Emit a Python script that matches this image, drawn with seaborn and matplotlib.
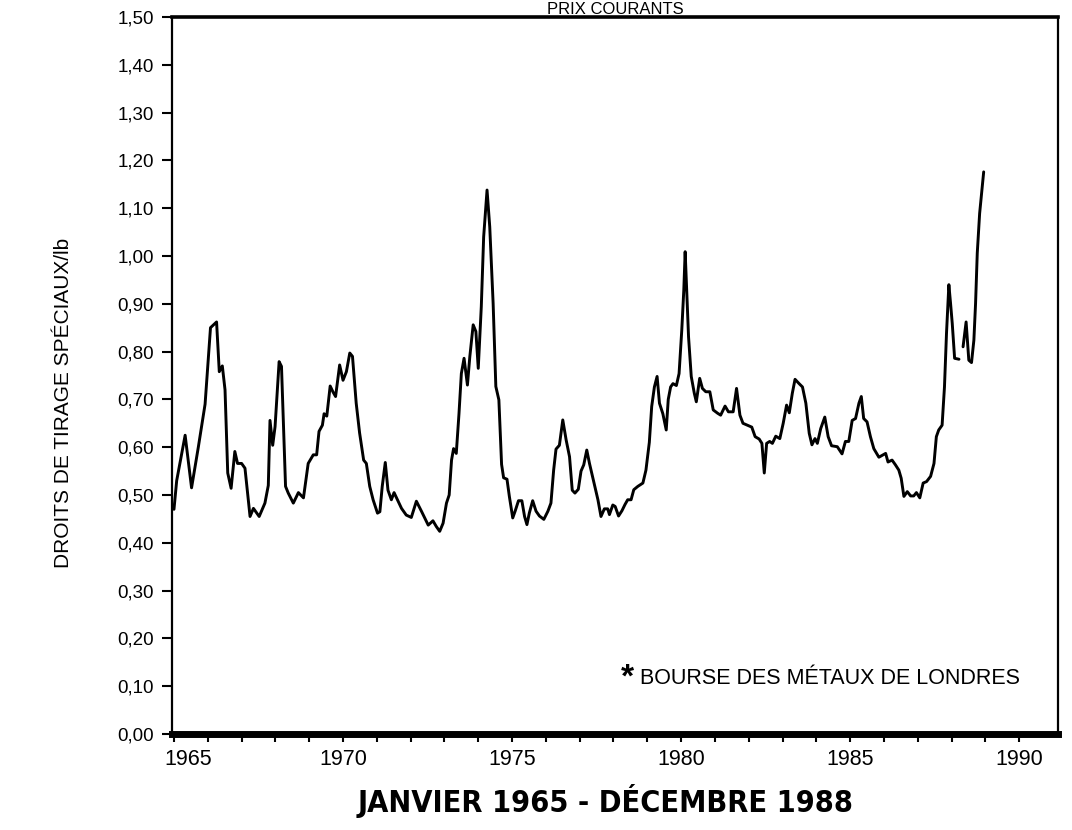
import numpy as np
import pandas as pd
import matplotlib
matplotlib.use("Agg")
import matplotlib.pyplot as plt
import matplotlib.transforms as mtransforms
import seaborn as sns

# prix mensuels du cuivre (DTS/lb)
dates_a = [1965.00, 1965.08, 1965.33, 1965.52, 1965.72, 1965.92, 1966.08, 1966.26, 1966.34, 1966.43,
           1966.51, 1966.59, 1966.69, 1966.80, 1966.88, 1967.00, 1967.10, 1967.25, 1967.35, 1967.52,
           1967.69, 1967.79, 1967.84, 1967.92, 1967.99, 1968.11, 1968.18, 1968.30, 1968.38, 1968.53,
           1968.68, 1968.83, 1968.97, 1969.12, 1969.22, 1969.29, 1969.39, 1969.44, 1969.52, 1969.62,
           1969.70, 1969.78, 1969.90, 1970.00, 1970.10, 1970.20, 1970.28, 1970.39, 1970.49, 1970.61,
           1970.69, 1970.79, 1970.89, 1971.02, 1971.09, 1971.16, 1971.25, 1971.33, 1971.43, 1971.51,
           1971.63, 1971.73, 1971.87, 1972.02, 1972.17, 1972.32, 1972.52, 1972.66, 1972.76, 1972.86,
           1972.96, 1973.06, 1973.14, 1973.21, 1973.27, 1973.35, 1973.43, 1973.50, 1973.58, 1973.68,
           1973.75, 1973.85, 1973.93, 1974.00, 1974.09, 1974.16, 1974.26, 1974.34, 1974.44, 1974.52,
           1974.61, 1974.69, 1974.75, 1974.85, 1974.92, 1975.02, 1975.09, 1975.19, 1975.29, 1975.37,
           1975.44, 1975.51, 1975.61, 1975.71, 1975.81, 1975.94, 1976.06, 1976.15, 1976.23, 1976.30,
           1976.40, 1976.50, 1976.60, 1976.70, 1976.78, 1976.86, 1976.96, 1977.04, 1977.12, 1977.21,
           1977.29, 1977.44, 1977.54, 1977.63, 1977.73, 1977.83, 1977.88, 1977.98, 1978.05, 1978.15,
           1978.25, 1978.34, 1978.42, 1978.52, 1978.60, 1978.72, 1978.87, 1978.96, 1979.06, 1979.13,
           1979.21, 1979.29, 1979.36, 1979.46, 1979.56, 1979.62, 1979.69, 1979.76, 1979.86, 1979.94,
           1980.02, 1980.08, 1980.12, 1980.16, 1980.22, 1980.30, 1980.39, 1980.45, 1980.55, 1980.63,
           1980.73, 1980.85, 1980.95, 1981.08, 1981.17, 1981.30, 1981.40, 1981.54, 1981.64, 1981.74,
           1981.83, 1981.96, 1982.09, 1982.19, 1982.31, 1982.39, 1982.46, 1982.53, 1982.62, 1982.70,
           1982.80, 1982.92, 1983.02, 1983.12, 1983.20, 1983.29, 1983.37, 1983.49, 1983.59, 1983.69,
           1983.79, 1983.87, 1983.96, 1984.03, 1984.13, 1984.25, 1984.35, 1984.45, 1984.62, 1984.76,
           1984.86, 1984.96, 1985.06, 1985.16, 1985.26, 1985.33, 1985.40, 1985.50, 1985.60, 1985.70,
           1985.85, 1985.95, 1986.05, 1986.12, 1986.24, 1986.34, 1986.44, 1986.51, 1986.59, 1986.69,
           1986.79, 1986.88, 1986.96, 1987.06, 1987.16, 1987.26, 1987.38, 1987.48, 1987.55, 1987.62,
           1987.72, 1987.79, 1987.85, 1987.92, 1987.97, 1988.02, 1988.09, 1988.22]
prix_a = [0.470, 0.530, 0.625, 0.515, 0.600, 0.690, 0.850, 0.862, 0.758, 0.770,
          0.720, 0.546, 0.514, 0.591, 0.566, 0.566, 0.556, 0.455, 0.472, 0.455,
          0.483, 0.520, 0.656, 0.604, 0.643, 0.779, 0.769, 0.518, 0.504, 0.483,
          0.505, 0.494, 0.566, 0.584, 0.584, 0.633, 0.646, 0.670, 0.665, 0.728,
          0.716, 0.706, 0.772, 0.740, 0.758, 0.797, 0.790, 0.692, 0.630, 0.573,
          0.566, 0.518, 0.490, 0.462, 0.465, 0.518, 0.568, 0.510, 0.490, 0.505,
          0.487, 0.472, 0.458, 0.453, 0.487, 0.466, 0.437, 0.446, 0.434, 0.424,
          0.441, 0.483, 0.500, 0.573, 0.597, 0.587, 0.670, 0.754, 0.786, 0.730,
          0.789, 0.856, 0.842, 0.765, 0.894, 1.040, 1.138, 1.061, 0.901, 0.727,
          0.699, 0.564, 0.536, 0.533, 0.497, 0.452, 0.466, 0.488, 0.488, 0.455,
          0.438, 0.462, 0.488, 0.466, 0.456, 0.449, 0.466, 0.483, 0.552, 0.596,
          0.604, 0.657, 0.615, 0.580, 0.510, 0.504, 0.512, 0.550, 0.563, 0.594,
          0.566, 0.520, 0.490, 0.455, 0.471, 0.471, 0.459, 0.479, 0.476, 0.456,
          0.467, 0.480, 0.490, 0.490, 0.511, 0.518, 0.525, 0.552, 0.610, 0.685,
          0.726, 0.748, 0.692, 0.670, 0.636, 0.700, 0.726, 0.733, 0.729, 0.754,
          0.845, 0.929, 1.009, 0.936, 0.831, 0.748, 0.713, 0.695, 0.744, 0.723,
          0.716, 0.716, 0.678, 0.671, 0.667, 0.686, 0.674, 0.674, 0.723, 0.667,
          0.650, 0.646, 0.642, 0.622, 0.617, 0.608, 0.546, 0.608, 0.612, 0.608,
          0.623, 0.618, 0.650, 0.688, 0.672, 0.713, 0.742, 0.733, 0.726, 0.692,
          0.629, 0.605, 0.618, 0.608, 0.639, 0.663, 0.622, 0.603, 0.601, 0.586,
          0.612, 0.612, 0.656, 0.660, 0.692, 0.706, 0.660, 0.653, 0.622, 0.597,
          0.579, 0.583, 0.587, 0.569, 0.573, 0.563, 0.552, 0.535, 0.497, 0.507,
          0.498, 0.498, 0.505, 0.494, 0.525, 0.528, 0.539, 0.566, 0.622, 0.636,
          0.646, 0.726, 0.838, 0.940, 0.901, 0.859, 0.786, 0.784]

# après l'interruption de 1988
dates_b = [1988.34, 1988.43, 1988.51, 1988.59, 1988.66, 1988.71, 1988.76, 1988.83, 1988.95]
prix_b = [0.810, 0.862, 0.782, 0.777, 0.824, 0.901, 1.006, 1.089, 1.176]

yticks = [i / 10 for i in range(16)]
xticks = list(range(1965, 1991))
xlabels = [str(a) if a % 5 == 0 else "" for a in xticks]

df = pd.concat([
    pd.DataFrame({"date": dates_a, "prix": prix_a, "seg": 0}),
    pd.DataFrame({"date": dates_b, "prix": prix_b, "seg": 1}),
])

sns.set_style("ticks")
plt.rcParams["font.family"] = ["Liberation Sans", "DejaVu Sans"]
for k in ["text.color", "axes.labelcolor", "xtick.color", "ytick.color", "axes.edgecolor"]:
    plt.rcParams[k] = "black"

fig = plt.figure(figsize=(10.72, 8.30), dpi=100)
ax = fig.add_axes([0.1604, 0.1157, 0.8266, 0.8638])

sns.lineplot(data=df, x="date", y="prix", units="seg", estimator=None,
             color="black", linewidth=2.1, ax=ax)

ax.set_xlim(1964.94, 1991.15)
ax.set_ylim(0, 1.5)
ax.set_yticks(yticks)
ax.set_yticklabels([f"{v:.2f}".replace(".", ",") for v in yticks], fontsize=13.5)
ax.set_xticks(xticks)
ax.set_xticklabels(xlabels, fontsize=15.5)
ax.tick_params(axis="y", length=7, width=1.5, pad=6)
ax.tick_params(axis="x", length=6, width=1.5, pad=5)
# le 1965 est un peu décalé vers la droite dans l'original
lab = ax.get_xticklabels()[0]
lab.set_transform(lab.get_transform() + mtransforms.ScaledTranslation(0.14, 0, fig.dpi_scale_trans))

for s in ["left", "right"]:
    ax.spines[s].set_linewidth(1.6)
ax.spines["top"].set_linewidth(2.6)
ax.spines["bottom"].set_linewidth(5)

ax.set_xlabel("")
ax.set_ylabel("DROITS DE TIRAGE SPÉCIAUX/lb", fontsize=15)
ax.yaxis.set_label_coords(-0.112, 0.462)

ax.text(0.507, 0.066, "*", transform=ax.transAxes, fontsize=24, fontweight="bold",
        ha="left", va="baseline")
ax.text(0.528, 0.07, "BOURSE DES MÉTAUX DE LONDRES", transform=ax.transAxes,
        fontsize=15.5, ha="left", va="baseline")

fig.text(0.574, 1 - 14 / 830, "PRIX COURANTS", fontsize=12, ha="center", va="baseline")
fig.text(0.565, 0.022, "JANVIER 1965 - DÉCEMBRE 1988", fontsize=22, fontweight="bold",
         fontstretch="condensed", family="DejaVu Sans", ha="center", va="baseline")

fig.savefig("out.png", dpi=100)
